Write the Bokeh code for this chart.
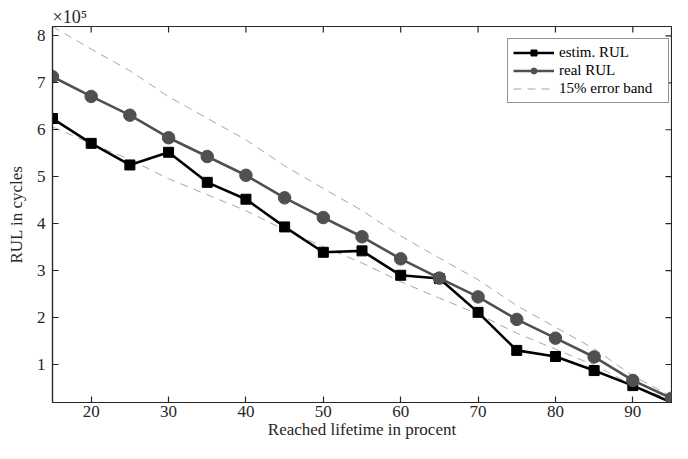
from bokeh.plotting import figure
from bokeh.models import Range1d, FixedTicker, Legend, LegendItem
from bokeh.embed import file_html
from bokeh.resources import INLINE

# Data
lifetime = [15, 20, 25, 30, 35, 40, 45, 50, 55, 60, 65, 70, 75, 80, 85, 90, 95]
real_rul = [713000, 671000, 631000, 583000, 543000, 503000, 455000, 413000, 372000,
            325000, 284000, 244000, 196000, 156000, 116000, 66000, 28000]
estim_rul = [624000, 571000, 525000, 552000, 488000, 452000, 393000, 339000, 342000,
             290000, 283000, 211000, 130000, 117000, 87000, 55000, 19000]
band_pct = 0.15
upper_band = [v * (1 + band_pct) for v in real_rul]
lower_band = [v * (1 - band_pct) for v in real_rul]
x_ticks = [20, 30, 40, 50, 60, 70, 80, 90]
y_ticks = [100000, 200000, 300000, 400000, 500000, 600000, 700000, 800000]
y_tick_labels = {t: str(t // 100000) for t in y_ticks}

FONT = "Liberation Serif"
AX = "#262626"

x0, x1 = 15, 95
y0 = min(estim_rul)
y1 = max(upper_band)
FW, FH = 619, 376

p = figure(frame_width=FW, frame_height=FH, output_backend="svg", toolbar_location=None,
           x_range=Range1d(x0, x1), y_range=Range1d(y0, y1),
           min_border_left=52, min_border_right=1, min_border_top=26, min_border_bottom=10,
           title="×10⁵")
p.xgrid.visible = False
p.ygrid.visible = False
p.outline_line_color = AX
p.outline_line_width = 1.2
p.background_fill_color = "white"
p.border_fill_color = "white"

# exponent shown as title above the top-left corner
p.title.text_font = FONT
p.title.text_font_size = "18px"
p.title.text_font_style = "normal"
p.title.text_color = AX
p.title.align = "left"
p.title.standoff = 0
p.title.offset = 0

for ax in (p.xaxis[0], p.yaxis[0]):
    ax.axis_line_color = AX
    ax.axis_line_width = 1.2
    ax.major_tick_line_color = AX
    ax.major_tick_line_width = 1.2
    ax.major_tick_in = 6
    ax.major_tick_out = 0
    ax.minor_tick_line_color = None
    ax.major_label_text_font = FONT
    ax.major_label_text_font_size = "17px"
    ax.major_label_text_color = AX
    ax.axis_label_text_font = FONT
    ax.axis_label_text_font_size = "17px"
    ax.axis_label_text_font_style = "normal"
    ax.axis_label_text_color = AX

p.xaxis[0].ticker = FixedTicker(ticks=x_ticks)
p.yaxis[0].ticker = FixedTicker(ticks=y_ticks)
p.yaxis[0].major_label_overrides = y_tick_labels
p.xaxis[0].axis_label = "Reached lifetime in procent"
p.yaxis[0].axis_label = "RUL in cycles"
p.xaxis[0].major_label_standoff = 3
p.xaxis[0].axis_label_standoff = 0
p.yaxis[0].major_label_standoff = 7
p.yaxis[0].axis_label_standoff = 8

# ticks on the top and right box edges (MATLAB "box on")
tlx = (x1 - x0) * 6 / FW
tly = (y1 - y0) * 6 / FH
p.segment(x0=x_ticks, y0=[y1] * len(x_ticks), x1=x_ticks, y1=[y1 - tly] * len(x_ticks),
          line_color=AX, line_width=1.2)
p.segment(x0=[x1] * len(y_ticks), y0=y_ticks, x1=[x1 - tlx] * len(y_ticks), y1=y_ticks,
          line_color=AX, line_width=1.2)

# glyphs
band_u = p.line(lifetime, upper_band, line_color="#a6a6a6", line_width=1, line_dash="8 6")
band_l = p.line(lifetime, lower_band, line_color="#a6a6a6", line_width=1, line_dash="8 6")
est_l = p.line(lifetime, estim_rul, line_color="black", line_width=2.6)
est_m = p.scatter(lifetime, estim_rul, marker="square", size=10, fill_color="black", line_color="black")
real_l = p.line(lifetime, real_rul, line_color="#505050", line_width=2.6)
real_m = p.scatter(lifetime, real_rul, marker="circle", size=12.5, fill_color="#505050", line_color="#505050")

legend = Legend(items=[
    LegendItem(label="estim. RUL", renderers=[est_l, est_m]),
    LegendItem(label="real RUL", renderers=[real_l, real_m]),
    LegendItem(label="15% error band", renderers=[band_u]),
], location=(455, 299))
legend.label_text_font = FONT
legend.label_text_font_size = "15px"
legend.label_text_color = "black"
legend.border_line_color = AX
legend.border_line_width = 1
legend.background_fill_color = "white"
legend.background_fill_alpha = 1
legend.padding = 5
legend.spacing = 1
legend.margin = 0
legend.glyph_width = 41
legend.glyph_height = 15
legend.label_height = 15
legend.label_width = 104
legend.label_standoff = 5
p.add_layout(legend, "center")

open("out.html", "w").write(file_html(p, INLINE))
